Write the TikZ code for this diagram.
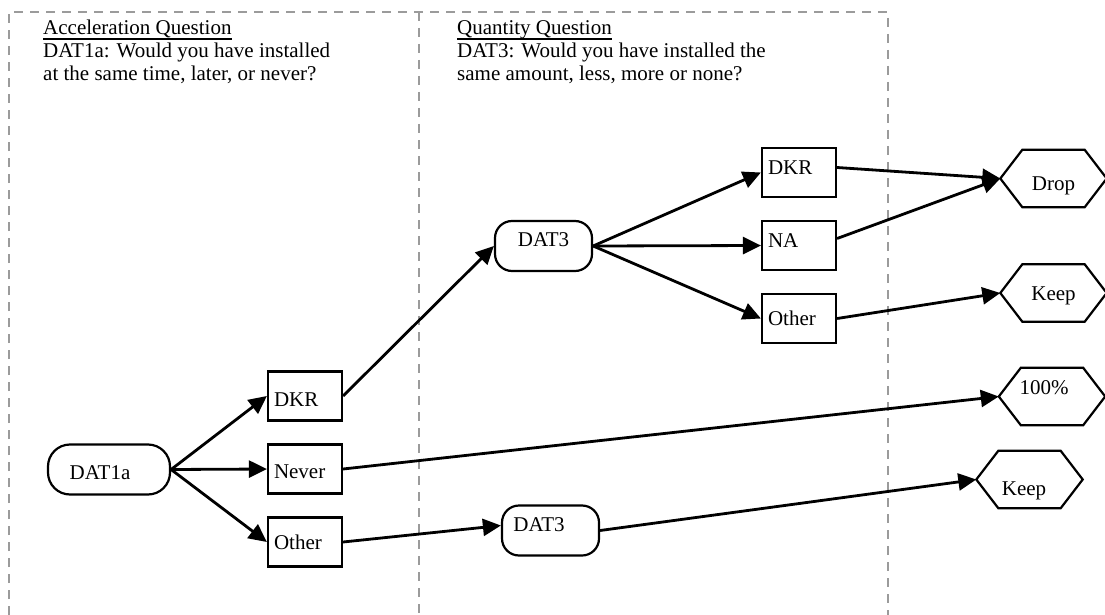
\documentclass[tikz,border=0pt]{standalone}
\usepackage{fontspec}
\setmainfont{Liberation Serif}
\usetikzlibrary{arrows.meta}
\definecolor{framegray}{RGB}{155,155,155}
\tikzset{
  frameline/.style={draw=framegray, line width=2pt, dash pattern=on 9pt off 7pt},
  hdr/.style={anchor=base west, inner sep=0pt},
  boxnode/.style={draw, line width=2.2pt, minimum height=49pt, text width=62pt, inner xsep=6pt, inner ysep=0pt, align=left, text height=14pt, text depth=4pt},
  pill/.style={draw, line width=2.2pt, minimum height=50pt, inner sep=0pt, text height=14pt, text depth=4pt},
  hexnode/.style={minimum width=106pt, minimum height=57pt, inner sep=0pt, text height=14pt, text depth=4pt},
  hexline/.style={draw, line width=2.2pt, line join=miter},
  conn/.style={line width=2.8pt, -{Triangle[length=18pt,width=17pt]}},
}
\begin{document}
\begin{tikzpicture}[x=1pt,y=-1pt, every node/.style={font=\fontsize{21}{23.5}\selectfont}]
\useasboundingbox (0,0) rectangle (1105,615);

% dashed frame
\draw[frameline] (9,615) -- (9,12) -- (888,12) -- (888,615);
\draw[frameline] (418.5,12) -- (418.5,615);

% headers
\node[hdr] (ha1) at (43,35) {Acceleration Question};
\node[hdr] (ha2) at (43,58) {DAT1a: Would you have installed};
\node[hdr] (ha3) at (43,81) {at the same time, later, or never?};
\node[hdr] (hq1) at (457,35) {Quantity Question};
\node[hdr] (hq2) at (457,58) {DAT3: Would you have installed the};
\node[hdr] (hq3) at (457,81) {same amount, less, more or none?};
\draw[line width=1.4pt] ([yshift=-4pt]ha1.base west) -- ([yshift=-4pt]ha1.base east);
\draw[line width=1.4pt] ([yshift=-4pt]hq1.base west) -- ([yshift=-4pt]hq1.base east);

% pills
\node[pill, minimum width=122pt, rounded corners=22pt, text height=24pt] (dat1a) at (109,469.5) {DAT1a\hspace*{18pt}};
\node[pill, minimum width=97pt, rounded corners=17pt, text depth=13pt] (dat3u) at (543.5,246) {DAT3};
\node[pill, minimum width=97pt, rounded corners=17pt, text depth=13pt] (dat3l) at (550.5,530.5) {DAT3\hspace*{23pt}};

% left boxes
\node[boxnode, text height=24pt] (ldkr) at (305,396) {DKR};
\node[boxnode, text height=22pt] (lnever) at (305,469) {Never};
\node[boxnode, text height=18pt] (lother) at (305,542) {Other};

% right boxes
\node[boxnode, text depth=11pt] (rdkr) at (799,172.5) {DKR};
\node[boxnode, text depth=11pt] (rna) at (799,245.5) {NA};
\node[boxnode, text height=18pt] (rother) at (799,318.5) {Other};

% hexagons
\node[hexnode, text height=27pt] (drop) at (1053.5,178.5) {Drop};
\node[hexnode, text height=18pt] (keepa) at (1053.5,293) {Keep};
\node[hexnode, text depth=19pt] (full) at (1052,396.5) {100\%\hspace*{16pt}};
\node[hexnode, text height=35pt] (keepb) at (1029.5,479.5) {Keep\hspace*{11pt}};
\foreach \n in {drop,keepa,full,keepb}{
  \draw[hexline] (\n.west) -- ([xshift=22pt]\n.north west) -- ([xshift=-22pt]\n.north east) -- (\n.east) -- ([xshift=-22pt]\n.south east) -- ([xshift=22pt]\n.south west) -- cycle;
}

% connectors
\draw[conn] (dat1a.east) -- (ldkr.west);
\draw[conn] (dat1a.east) -- (lnever.west);
\draw[conn] (dat1a.east) -- (lother.west);
\draw[conn] (ldkr.east) -- (dat3u.west);
\draw[conn] (lnever.east) -- (full.west);
\draw[conn] (lother.east) -- ([yshift=5pt]dat3l.west);
\draw[conn] (dat3u.east) -- (rdkr.west);
\draw[conn] (dat3u.east) -- (rna.west);
\draw[conn] (dat3u.east) -- (rother.west);
\draw[conn] ([yshift=5pt]rdkr.east) -- (drop.west);
\draw[conn] ([yshift=7pt]rna.east) -- (drop.west);
\draw[conn] (rother.east) -- (keepa.west);
\draw[conn] (dat3l.east) -- (keepb.west);
\end{tikzpicture}
\end{document}
